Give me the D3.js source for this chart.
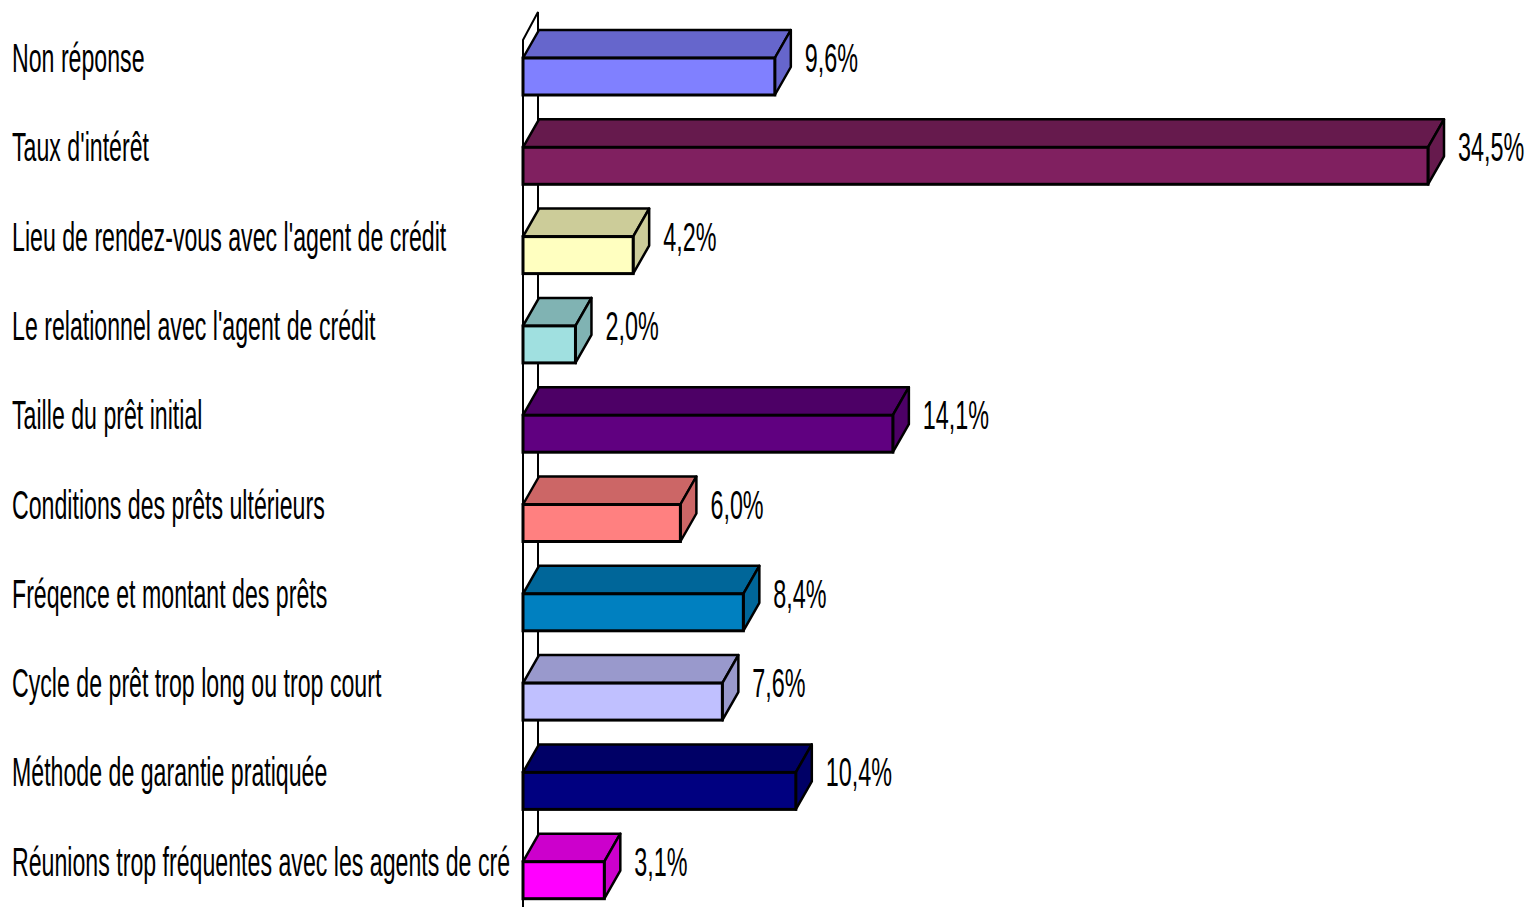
<!DOCTYPE html>
<html><head><meta charset="utf-8">
<script src="https://cdn.jsdelivr.net/npm/d3@7"></script>
<style>body{margin:0;background:#fff}svg{display:block}</style>
</head><body>
<svg id="c" width="1529" height="907"></svg>
<script>
const categories = [
  "Non réponse",
  "Taux d'intérêt",
  "Lieu de rendez-vous avec l'agent de crédit",
  "Le relationnel avec l'agent de crédit",
  "Taille du prêt initial",
  "Conditions des prêts ultérieurs",
  "Fréqence et montant des prêts",
  "Cycle de prêt trop long ou trop court",
  "Méthode de garantie pratiquée",
  "Réunions trop fréquentes avec les agents de cré"
];
const values = [9.6, 34.5, 4.2, 2.0, 14.1, 6.0, 8.4, 7.6, 10.4, 3.1];
const valueLabels = ["9,6%","34,5%","4,2%","2,0%","14,1%","6,0%","8,4%","7,6%","10,4%","3,1%"];
const frontColors = ["#8080FF","#802060","#FFFFC0","#A0E0E0","#600080","#FF8080","#0080C0","#C0C0FF","#000080","#FF00FF"];
const darkColors  = ["#6666CC","#661A4D","#CCCC99","#80B3B3","#4D0066","#CC6666","#006699","#9999CC","#000066","#CC00CC"];

const svg = d3.select("#c");
const DX = 16, DY = 28, FH = 37;
const x = d3.scaleLinear().domain([0, 34.5]).range([523, 1428]);
const y = d3.scaleBand().domain(categories).range([13, 906]).padding(0);
const font = "'Liberation Sans Narrow','Arial Narrow','Liberation Sans',sans-serif";

// category labels (drawn first so bars cover overflow)
categories.forEach((c, i) => {
  const by = y(c) + 59;
  svg.append("text")
    .attr("transform", `translate(12,${by}) scale(0.565,1)`)
    .attr("font-family", font).attr("font-size", 41).attr("fill","#000")
    .text(c);
});

// wall
const wx = x(0);
svg.append("path")
  .attr("d", `M${wx},${y.range()[1]+20} L${wx},40 L${wx+15},12 L${wx+15},${y.range()[1]-8}`)
  .attr("fill","none").attr("stroke","#000").attr("stroke-width",2);

const g = svg.append("g");
categories.forEach((c, i) => {
  const yf = y(c) + 45;
  const x0 = x(0), x1 = x(values[i]);
  const bar = g.append("g");
  bar.append("path")
    .attr("d", `M${x0},${yf} L${x0+DX},${yf-DY} L${x1+DX},${yf-DY} L${x1},${yf} Z`)
    .attr("fill", darkColors[i]).attr("stroke","#000").attr("stroke-width",2.5).attr("stroke-linejoin","round");
  bar.append("path")
    .attr("d", `M${x1},${yf} L${x1+DX},${yf-DY} L${x1+DX},${yf+FH-DY} L${x1},${yf+FH} Z`)
    .attr("fill", darkColors[i]).attr("stroke","#000").attr("stroke-width",2.5).attr("stroke-linejoin","round");
  bar.append("rect")
    .attr("x", x0).attr("y", yf).attr("width", x1 - x0).attr("height", FH)
    .attr("fill", frontColors[i]).attr("stroke","#000").attr("stroke-width",3);
});

categories.forEach((c, i) => {
  const by = y(c) + 59;
  svg.append("text")
    .attr("transform", `translate(${x(values[i]) + DX + 14},${by}) scale(0.57,1)`)
    .attr("font-family", font).attr("font-size", 41).attr("fill","#000")
    .text(valueLabels[i]);
});
</script>
</body></html>
